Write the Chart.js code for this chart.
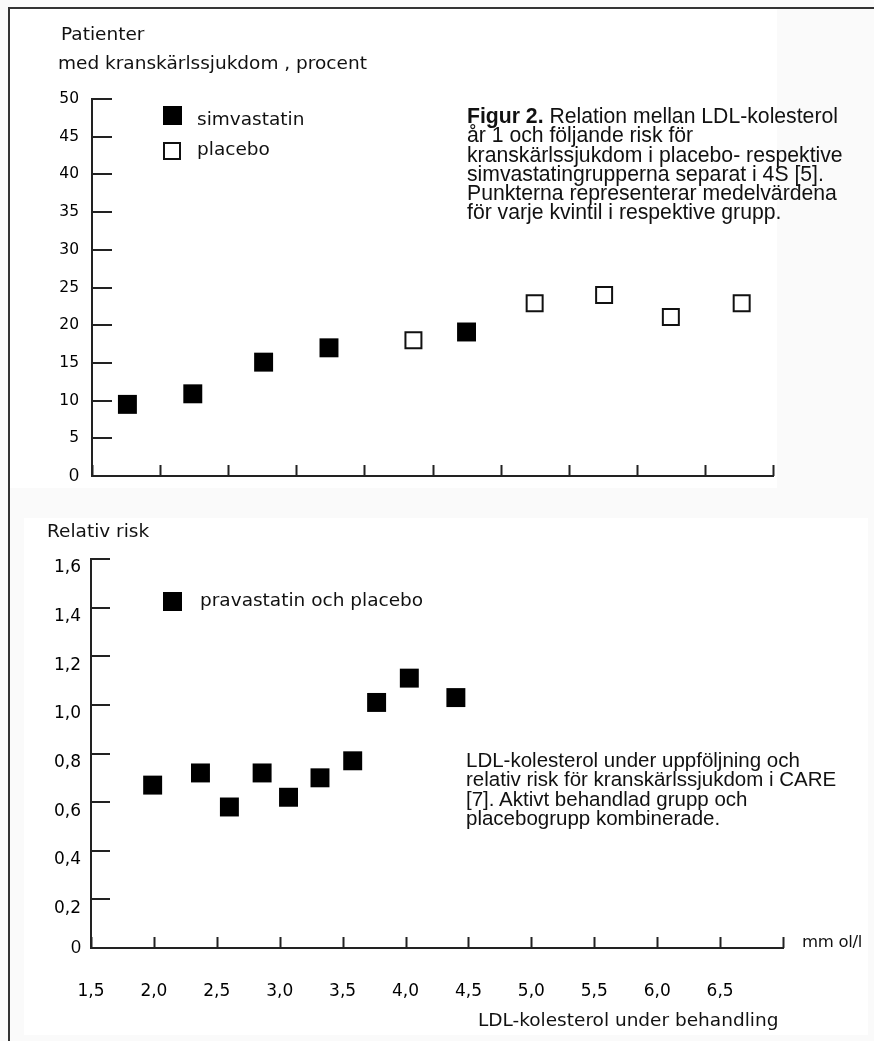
<!DOCTYPE html>
<html>
<head>
<meta charset="utf-8">
<script src="https://cdn.jsdelivr.net/npm/chart.js@4.4.1/dist/chart.umd.min.js"></script>
<style>
html, body { margin: 0; padding: 0; }
body { width: 874px; height: 1041px; position: relative; overflow: hidden; background: #fafafa; color: #111; font-family: "DejaVu Sans", sans-serif; }
.panel { position: absolute; background: #fff; }
.rule { position: absolute; background: #333; }
canvas { position: absolute; left: 0; top: 0; }
.t { position: absolute; white-space: nowrap; font-size: 18.5px; line-height: 1; }
.cap { position: absolute; white-space: nowrap; font-family: "Liberation Sans", Arial, sans-serif; font-size: 20.5px; line-height: 19.3px; color: #111; }
.sq { position: absolute; box-sizing: border-box; width: 19px; height: 19px; background: #000; }
.sq.open { background: #fff; border: 2px solid #111; width: 18px; height: 18px; }
</style>
</head>
<body>
<div class="panel" style="left:10px;top:9px;width:767px;height:479px"></div>
<div class="panel" style="left:24px;top:518px;width:844px;height:517px"></div>
<div class="rule" style="left:8px;top:7px;width:866px;height:2px"></div>
<div class="rule" style="left:8px;top:7px;width:2px;height:1034px"></div>

<canvas id="topChart" width="874" height="1041"></canvas>
<canvas id="bottomChart" width="874" height="1041"></canvas>

<!-- top panel texts -->
<div class="t" style="left:61px;top:25px">Patienter</div>
<div class="t" style="left:58px;top:54px">med kranskärlssjukdom , procent</div>
<div class="sq" style="left:163px;top:106px"></div>
<div class="t" style="left:197px;top:110px">simvastatin</div>
<div class="sq open" style="left:163px;top:142px"></div>
<div class="t" style="left:197px;top:140px">placebo</div>
<div class="cap" style="left:467px;top:106px;font-size:21.2px"><b>Figur 2.</b> Relation mellan LDL-kolesterol<br>år 1 och följande risk för<br>kranskärlssjukdom i placebo- respektive<br>simvastatingrupperna separat i 4S [5].<br>Punkterna representerar medelvärdena<br>för varje kvintil i respektive grupp.</div>

<!-- bottom panel texts -->
<div class="t" style="left:47px;top:522px">Relativ risk</div>
<div class="sq" style="left:163px;top:592px"></div>
<div class="t" style="left:200px;top:591px">pravastatin och placebo</div>
<div class="cap" style="left:466px;top:750px">LDL-kolesterol under uppföljning och<br>relativ risk för kranskärlssjukdom i CARE<br>[7]. Aktivt behandlad grupp och<br>placebogrupp kombinerade.</div>
<div class="t" style="left:802px;top:934px;font-size:16.5px;letter-spacing:-0.3px">mm ol/l</div>
<div class="t" style="left:478px;top:1011px">LDL-kolesterol under behandling</div>

<script>
// 4S: simvastatin and placebo quintiles (percent with coronary disease)
const simvaX = [1.76, 2.24, 2.76, 3.24, 4.25];
const simvaY = [9.5, 10.9, 15.1, 17.0, 19.1];
const placeboX = [3.86, 4.75, 5.26, 5.75, 6.27];
const placeboY = [18.0, 22.9, 24.0, 21.1, 22.9];

// CARE: pravastatin and placebo combined (relative risk)
const careX = [1.99, 2.37, 2.60, 2.86, 3.07, 3.32, 3.58, 3.77, 4.03, 4.40];
const careY = [0.67, 0.72, 0.58, 0.72, 0.62, 0.70, 0.77, 1.01, 1.11, 1.03];

// axis ranges / tick steps
const topXRange = [1.5, 6.5];
const topYRange = [0, 50];
const topYStep = 5;
const botXRange = [1.5, 7.0];
const botYRange = [0, 1.6];
const botYStep = 0.2;
const xStep = 0.5;

const ink = '#222';
const comma = v => (Math.round(v * 10) / 10).toFixed(1).replace('.', ',');
const pts = (xs, ys) => xs.map((x, i) => ({x: x, y: ys[i]}));

// tick marks drawn inside the plot: up from the x axis, right from the y axis
const innerTicks = {
  id: 'innerTicks',
  afterDatasetsDraw(chart, args, opts) {
    const {ctx, scales: {x, y}} = chart;
    ctx.save();
    ctx.strokeStyle = ink;
    ctx.lineWidth = 2;
    ctx.beginPath();
    x.ticks.forEach(t => {
      const px = Math.round(x.getPixelForValue(t.value)) + 0.5;
      ctx.moveTo(px, y.bottom);
      ctx.lineTo(px, y.bottom - opts.xLen);
    });
    y.ticks.forEach(t => {
      const py = Math.round(y.getPixelForValue(t.value));
      ctx.moveTo(x.left, py);
      ctx.lineTo(x.left + opts.yLen, py);
    });
    ctx.stroke();
    ctx.restore();
  }
};

const base = {
  responsive: false,
  animation: false,
  events: [],
  plugins: { legend: { display: false }, tooltip: { enabled: false } }
};

new Chart(document.getElementById('topChart'), {
  type: 'scatter',
  data: {
    datasets: [
      { label: 'simvastatin', data: pts(simvaX, simvaY), pointStyle: 'rect', pointRadius: 13.4,
        backgroundColor: '#000', borderColor: '#000', borderWidth: 0 },
      { label: 'placebo', data: pts(placeboX, placeboY), pointStyle: 'rect', pointRadius: 11.3,
        backgroundColor: '#fff', borderColor: '#111', borderWidth: 2 }
    ]
  },
  plugins: [innerTicks],
  options: Object.assign({}, base, {
    layout: { padding: { left: 20, right: 101, top: 99, bottom: 555 } },
    plugins: Object.assign({}, base.plugins, { innerTicks: { xLen: 11, yLen: 20 } }),
    scales: {
      x: {
        type: 'linear', min: topXRange[0], max: topXRange[1],
        grid: { display: false },
        border: { display: true, color: ink, width: 2 },
        ticks: { display: false, stepSize: xStep },
        afterFit(s) { s.height = 10; }
      },
      y: {
        type: 'linear', min: topYRange[0], max: topYRange[1],
        grid: { display: false, drawTicks: false },
        border: { display: true, color: ink, width: 2 },
        ticks: {
          stepSize: topYStep, padding: 13, color: '#000',
          font: c => (c.tick && c.tick.value === 0)
            ? { family: 'Liberation Sans', size: 18 }
            : { family: 'DejaVu Sans', size: 15.5 },
          callback: v => String(v)
        },
        afterFit(s) { s.width = 72; }
      }
    }
  })
});

new Chart(document.getElementById('bottomChart'), {
  type: 'scatter',
  data: {
    datasets: [
      { label: 'pravastatin och placebo', data: pts(careX, careY), pointStyle: 'rect', pointRadius: 13.4,
        backgroundColor: '#000', borderColor: '#000', borderWidth: 0 }
    ]
  },
  plugins: [innerTicks],
  options: Object.assign({}, base, {
    layout: { padding: { left: 20, right: 91, top: 559, bottom: 33 } },
    plugins: Object.assign({}, base.plugins, { innerTicks: { xLen: 11, yLen: 19 } }),
    scales: {
      x: {
        type: 'linear', min: botXRange[0], max: botXRange[1],
        grid: { display: false, drawTicks: false },
        border: { display: true, color: ink, width: 2 },
        ticks: {
          stepSize: xStep, padding: 33, color: '#000', maxRotation: 0, autoSkip: false,
          font: { family: 'DejaVu Sans', size: 17 },
          callback: v => v > 6.75 ? '' : comma(v)
        },
        afterFit(s) { s.height = 60; }
      },
      y: {
        type: 'linear', min: botYRange[0], max: botYRange[1],
        grid: { display: false, drawTicks: false },
        border: { display: true, color: ink, width: 2 },
        ticks: {
          stepSize: botYStep, padding: 10, color: '#000',
          font: c => (c.tick && c.tick.value === 0)
            ? { family: 'Liberation Sans', size: 18 }
            : { family: 'DejaVu Sans', size: 17, lineHeight: 1.06 },
          // non-zero labels sit a little below their tick in the original
          callback: v => v === 0 ? '0' : ['', comma(v)]
        },
        afterFit(s) { s.width = 71; }
      }
    }
  })
});
</script>
</body>
</html>
